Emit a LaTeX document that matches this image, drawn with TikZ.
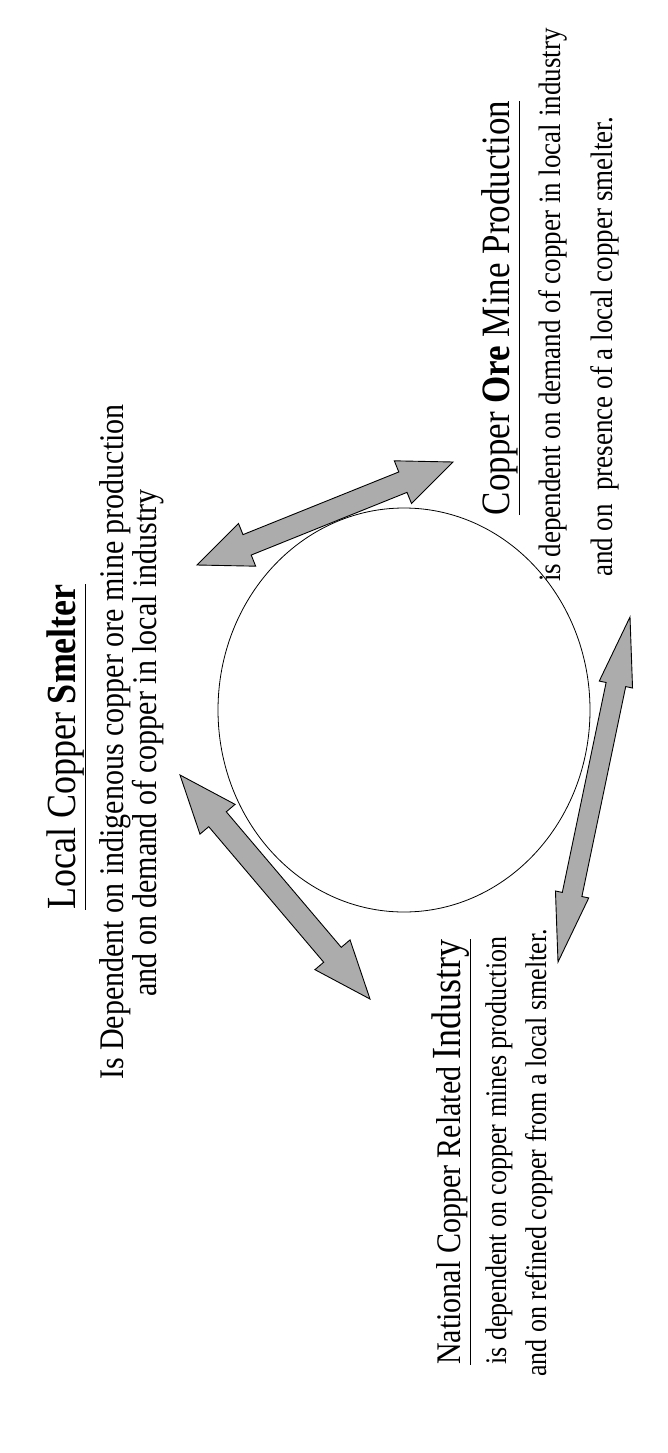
\documentclass[tikz,border=0pt]{standalone}
\usepackage{fontspec}
\setmainfont{Liberation Serif}
\usetikzlibrary{calc}

% double block arrow from tip #1 to tip #2: head length, head half width, shaft half width
\newcommand{\dblarrow}[5]{%
  \draw[blockarrow] (#1)
    -- ($(#1)!#3!(#2)!#4!90:(#2)$) -- ($(#1)!#3!(#2)!#5!90:(#2)$)
    -- ($(#2)!#3!(#1)!#5!-90:(#1)$) -- ($(#2)!#3!(#1)!#4!-90:(#1)$)
    -- (#2)
    -- ($(#2)!#3!(#1)!#4!90:(#1)$) -- ($(#2)!#3!(#1)!#5!90:(#1)$)
    -- ($(#1)!#3!(#2)!#5!-90:(#2)$) -- ($(#1)!#3!(#2)!#4!-90:(#2)$)
    -- cycle;}

\begin{document}
\begin{tikzpicture}[x=1pt, y=-1pt,
    blockarrow/.style={draw=black, line width=0.9pt, fill=gray!65, line join=miter},
    caption/.style={rotate=90, yscale=1.15, inner sep=0pt}]
	\useasboundingbox (0,0) rectangle (668,1453);
	% Central ellipse
	\draw[line width=0.8pt] (404,710) ellipse [x radius=186pt, y radius=202pt];

	% Local copper smelter
	\node[caption, anchor=base, font=\fontsize{36}{40}\selectfont] (smelterTitle) at (75,747) {\underline{Local Copper \textbf{Smelter}}};
	\node[caption, anchor=base, font=\fontsize{30}{34}\selectfont] (smelterLineA) at (123,742) {Is Dependent on indigenous copper ore mine production};
	\node[caption, anchor=base, font=\fontsize{30}{34}\selectfont] (smelterLineB) at (156,743) {and on demand of copper in local industry};

	% Copper ore mine production
	\node[caption, anchor=base, font=\fontsize{35}{40}\selectfont] (mineTitle) at (509,308) {\underline{Copper \textbf{Ore} Mine Production}};
	\node[caption, anchor=base west, font=\fontsize{27}{31}\selectfont] (mineLineA) at (560,582) {is dependent on demand of copper in local industry};
	\node[caption, anchor=base west, font=\fontsize{27}{31}\selectfont] (mineLineB) at (612,577) {and on\ \ presence of a local copper smelter.};

	% National copper related industry
	\node[caption, anchor=base west, font=\fontsize{30}{34}\selectfont] (industryTitle) at (460,1365) {\underline{National Copper Related {\fontsize{36}{40}\selectfont Industry}}};
	\node[caption, anchor=base west, font=\fontsize{26}{30}\selectfont] (industryLineA) at (506,1365) {is dependent on copper mines production};
	\node[caption, anchor=base west, font=\fontsize{26}{30}\selectfont] (industryLineB) at (546,1377) {and on refined copper from a local smelter.};

	% Arrow tips
	\coordinate (smelterMine) at (197,565);
	\coordinate (mineSmelter) at (453,462);
	\coordinate (smelterIndustry) at (180,775);
	\coordinate (industrySmelter) at (370,999);
	\coordinate (mineIndustry) at (630,617);
	\coordinate (industryMine) at (558,962);

	\foreach \a/\b/\hl/\hw/\sw in {smelterMine/mineSmelter/54pt/23pt/11pt,
			smelterIndustry/industrySmelter/58pt/23pt/11.5pt,
			mineIndustry/industryMine/69pt/17pt/10pt}
		\dblarrow{\a}{\b}{\hl}{\hw}{\sw};
\end{tikzpicture}
\end{document}
